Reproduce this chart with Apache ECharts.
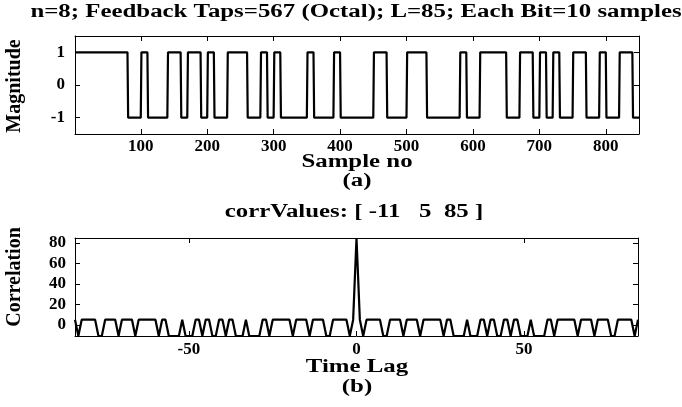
<!DOCTYPE html>
<html>
<head>
<meta charset="utf-8">
<script src="https://cdn.jsdelivr.net/npm/echarts@6/dist/echarts.min.js"></script>
<style>
  html, body { margin: 0; padding: 0; background: #fff; }
  #main { width: 682px; height: 407px; }
</style>
</head>
<body>
<div id="main"></div>
<script>
// PN sequence bits (+1 / -1), 85 bits, each bit held for 10 samples
const bitValues = [
  1, 1, 1, 1, 1, 1, 1, 1,-1,-1,
  1,-1,-1,-1, 1, 1,-1, 1, 1,-1,
  1,-1,-1, 1, 1, 1,-1,-1, 1,-1,
  1,-1,-1,-1,-1, 1,-1,-1,-1, 1,
 -1,-1,-1,-1,-1, 1, 1,-1,-1,-1,
  1, 1, 1,-1,-1,-1,-1,-1, 1,-1,
 -1, 1, 1, 1, 1,-1,-1, 1, 1,-1,
  1,-1, 1,-1,-1, 1, 1,-1,-1, 1,
 -1,-1, 1, 1,-1
];
const samplesPerBit = 10;

// correlation for lags -84 .. 84
const corrLagStart = -84;
const corrValues = [
  5,-11,5,5,5,5,5,-11,-11,5,
  5,5,5,-11,5,5,5,5,-11,5,
  5,5,5,5,5,-11,5,5,-11,-11,
  -11,-11,5,-11,-11,-11,5,5,-11,5,
  5,-11,-11,5,5,-11,5,5,-11,-11,
  -11,5,-11,-11,-11,-11,5,5,-11,5,
  5,5,5,5,5,-11,5,5,5,5,
  -11,5,5,5,5,-11,-11,5,5,5,
  5,5,-11,5,
  85,
  5,-11,5,5,5,5,5,-11,-11,5,
  5,5,5,-11,5,5,5,5,-11,5,
  5,5,5,5,5,-11,5,5,-11,-11,
  -11,-11,5,-11,-11,-11,5,5,-11,5,
  5,-11,-11,5,5,-11,5,5,-11,-11,
  -11,5,-11,-11,-11,-11,5,5,-11,5,
  5,5,5,5,5,-11,5,5,5,5,
  -11,5,5,5,5,-11,-11,5,5,5,
  5,5,-11,5
];

const topXTicks = [100, 200, 300, 400, 500, 600, 700, 800];
const topYTicks = [-1, 0, 1];
const botXTicks = [-50, 0, 50];
const botYTicks = [0, 20, 40, 60, 80];

const seqData = [];
bitValues.forEach((b, k) => {
  seqData.push([k * samplesPerBit + 1, b]);
  seqData.push([(k + 1) * samplesPerBit, b]);
});
const corrData = corrValues.map((v, i) => [corrLagStart + i, v]);

const FONT = 'Liberation Serif';
const labelStyle = { color: '#000', fontFamily: FONT, fontWeight: 'bold', fontSize: 17 };

function makeAxis(gridIndex, position, min, max, ticks, showLabel, margin) {
  return {
    type: 'value',
    gridIndex: gridIndex,
    position: position,
    min: min,
    max: max,
    axisLine: { show: true, onZero: false, lineStyle: { color: '#000', width: 1 } },
    axisTick: { show: true, inside: true, length: 5, customValues: ticks, lineStyle: { color: '#000' } },
    axisLabel: Object.assign({ show: showLabel, customValues: ticks, margin: margin || 8 }, labelStyle),
    splitLine: { show: false }
  };
}

// the figure text is wider than tall, so it is stretched sideways
function label(text, x, y, size, sx, rot) {
  return {
    type: 'text', x: x, y: y, scaleX: sx || 1, rotation: rot || 0,
    style: {
      text: text, fill: '#000',
      fontFamily: FONT, fontSize: size, fontWeight: 'bold', fontStyle: 'normal',
      align: 'center', verticalAlign: 'middle'
    }
  };
}

const chart = echarts.init(document.getElementById('main'));
chart.setOption({
  animation: false,
  backgroundColor: '#fff',
  textStyle: { fontFamily: FONT },
  graphic: [
    label('n=8; Feedback Taps=567 (Octal); L=85; Each Bit=10 samples', 356, 12, 18, 1.38),
    label('Sample no', 357, 162, 18, 1.38),
    label('(a)', 357, 181, 18, 1.38),
    label('corrValues: [ -11   5  85 ]', 354, 212, 18, 1.38),
    label('Time Lag', 357, 367, 18, 1.38),
    label('(b)', 357, 387, 18, 1.38),
    label('Magnitude', 15, 86, 20, 1, Math.PI / 2),
    label('Correlation', 15, 277, 20, 1, Math.PI / 2)
  ],
  grid: [
    { left: 75, top: 36, width: 564, height: 98 },
    { left: 75, top: 238, width: 563, height: 98 }
  ],
  xAxis: [
    makeAxis(0, 'bottom', 1, 850, topXTicks, true, 4),
    makeAxis(0, 'top', 1, 850, topXTicks, false),
    makeAxis(1, 'bottom', -84, 84, botXTicks, true, 5),
    makeAxis(1, 'top', -84, 84, botXTicks, false)
  ],
  yAxis: [
    makeAxis(0, 'left', -1.5, 1.5, topYTicks, true, 10),
    makeAxis(0, 'right', -1.5, 1.5, topYTicks, false),
    makeAxis(1, 'left', -11, 85, botYTicks, true, 9),
    makeAxis(1, 'right', -11, 85, botYTicks, false)
  ],
  series: [
    { type: 'line', xAxisIndex: 0, yAxisIndex: 0, data: seqData, showSymbol: false,
      lineStyle: { color: '#000', width: 2.2 }, clip: true },
    { type: 'line', xAxisIndex: 2, yAxisIndex: 2, data: corrData, showSymbol: false,
      lineStyle: { color: '#000', width: 2.2 }, clip: true }
  ]
});
</script>
</body>
</html>
